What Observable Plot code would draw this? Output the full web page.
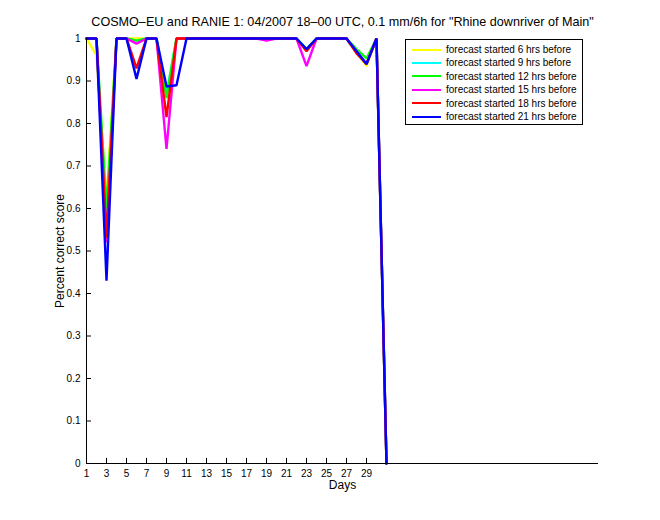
<!DOCTYPE html>
<html>
<head>
<meta charset="utf-8">
<script src="https://cdn.jsdelivr.net/npm/d3@7"></script>
<script src="https://cdn.jsdelivr.net/npm/@observablehq/plot@0.6"></script>
<style>
  body { margin: 0; background: #fff; }
  #wrap { position: relative; width: 660px; height: 520px; font-family: "Liberation Sans", Arial, Helvetica, sans-serif; }
  #legend { position: absolute; left: 405px; top: 39px; width: 178px; height: 86px; border: 1px solid #000; background: #fff; box-sizing: border-box; }
  .row { position: absolute; left: 0; height: 13px; display: flex; align-items: center; font-size: 10px; letter-spacing: 0px; white-space: nowrap; }
  .sw { width: 29px; height: 2px; margin-left: 6px; margin-right: 5px; }
</style>
</head>
<body>
<div id="wrap"><div id="legend"></div></div>
<script>
const title = 'COSMO\u2013EU and RANIE 1: 04/2007 18\u201300 UTC, 0.1 mm/6h for "Rhine downriver of Main"';
const days = [1,2,3,4,5,6,7,8,9,10,11,12,13,14,15,16,17,18,19,20,21,22,23,24,25,26,27,28,29,30,31];
const seriesNames = ["forecast started 6 hrs before","forecast started 9 hrs before","forecast started 12 hrs before","forecast started 15 hrs before","forecast started 18 hrs before","forecast started 21 hrs before"];
const seriesColors = ["#ffff00","#00ffff","#00ff00","#ff00ff","#ff0000","#0000ff"];
const s6  = [1,0.96,0.62,1,1,1,1,1,0.87,1,1,1,1,1,1,1,1,1,1,1,1,1,0.975,1,1,1,1,0.967,0.935,1,0];
const s9  = [1,1,0.55,1,1,0.995,1,1,0.87,1,1,1,1,1,1,1,1,1,1,1,1,1,0.975,1,1,1,1,0.97,0.94,1,0];
const s12 = [1,1,0.60,1,1,0.995,1,1,0.86,1,1,1,1,1,1,1,1,1,1,1,1,1,0.975,1,1,1,1,0.975,0.953,1,0];
const s15 = [1,1,0.52,1,1,0.988,1,1,0.74,1,1,1,1,1,1,1,1,1,0.995,1,1,1,0.935,1,1,1,1,0.97,0.94,1,0];
const s18 = [1,1,0.53,1,1,0.93,1,1,0.815,1,1,1,1,1,1,1,1,1,1,1,1,1,0.97,1,1,1,1,0.965,0.94,1,0];
const s21 = [1,1,0.43,1,1,0.905,1,1,0.887,0.89,1,1,1,1,1,1,1,1,1,1,1,1,0.975,1,1,1,1,0.97,0.94,1,0];
const xTicks = [1,3,5,7,9,11,13,15,17,19,21,23,25,27,29];
const yTicks = [0,0.1,0.2,0.3,0.4,0.5,0.6,0.7,0.8,0.9,1];

const allSeries = [s6,s9,s12,s15,s18,s21];
const rows = [];
allSeries.forEach((s, i) => s.forEach((v, j) => rows.push({day: days[j], value: v, series: seriesNames[i]})));

const fmt = d => d === 0 ? "0" : d === 1 ? "1" : d.toFixed(1);

const chart = Plot.plot({
  width: 660,
  height: 520,
  marginLeft: 86,
  marginRight: 62,
  marginTop: 38,
  marginBottom: 57,
  style: {fontFamily: '"Liberation Sans", Arial, Helvetica, sans-serif', fontSize: "10px", color: "#000", background: "#fff"},
  x: {domain: [1, 52.2], label: null},
  y: {domain: [0, 1], label: null},
  color: {domain: seriesNames, range: seriesColors},
  marks: [
    Plot.axisX({ticks: xTicks, tickSize: 0, tickPadding: 6, tickFormat: d => String(d), fontSize: 10}),
    Plot.axisY({ticks: yTicks, tickSize: 0, tickPadding: 6, tickFormat: fmt, fontSize: 10}),
    Plot.ruleX(xTicks, {x: d => d, y1: 0, y2: 0.012, stroke: "#000"}),
    Plot.ruleY(yTicks, {y: d => d, x1: 1, x2: 1.5, stroke: "#000"}),
    Plot.line(rows, {x: "day", y: "value", z: "series", stroke: "series", strokeWidth: 2.4, strokeLinejoin: "miter"}),
    Plot.ruleX([1], {stroke: "#000"}),
    Plot.ruleY([0], {stroke: "#000"}),
    Plot.text([title], {frameAnchor: "top", dy: -21, fontSize: 12.6, fill: "#000"}),
    Plot.text(["Days"], {frameAnchor: "bottom", lineAnchor: "middle", dy: 22, fontSize: 12, fill: "#000"}),
    Plot.text(["Percent correct score"], {frameAnchor: "left", textAnchor: "middle", dx: -26, rotate: -90, fontSize: 12, fill: "#000"})
  ]
});
const wrap = document.getElementById("wrap");
wrap.insertBefore(chart, wrap.firstChild);

const legend = document.getElementById("legend");
seriesNames.forEach((n, i) => {
  const r = document.createElement("div");
  r.className = "row";
  r.style.top = (3 + i * 13.4) + "px";
  const sw = document.createElement("div");
  sw.className = "sw";
  sw.style.background = seriesColors[i];
  const t = document.createElement("span");
  t.textContent = n;
  r.appendChild(sw); r.appendChild(t);
  legend.appendChild(r);
});
</script>
</body>
</html>
